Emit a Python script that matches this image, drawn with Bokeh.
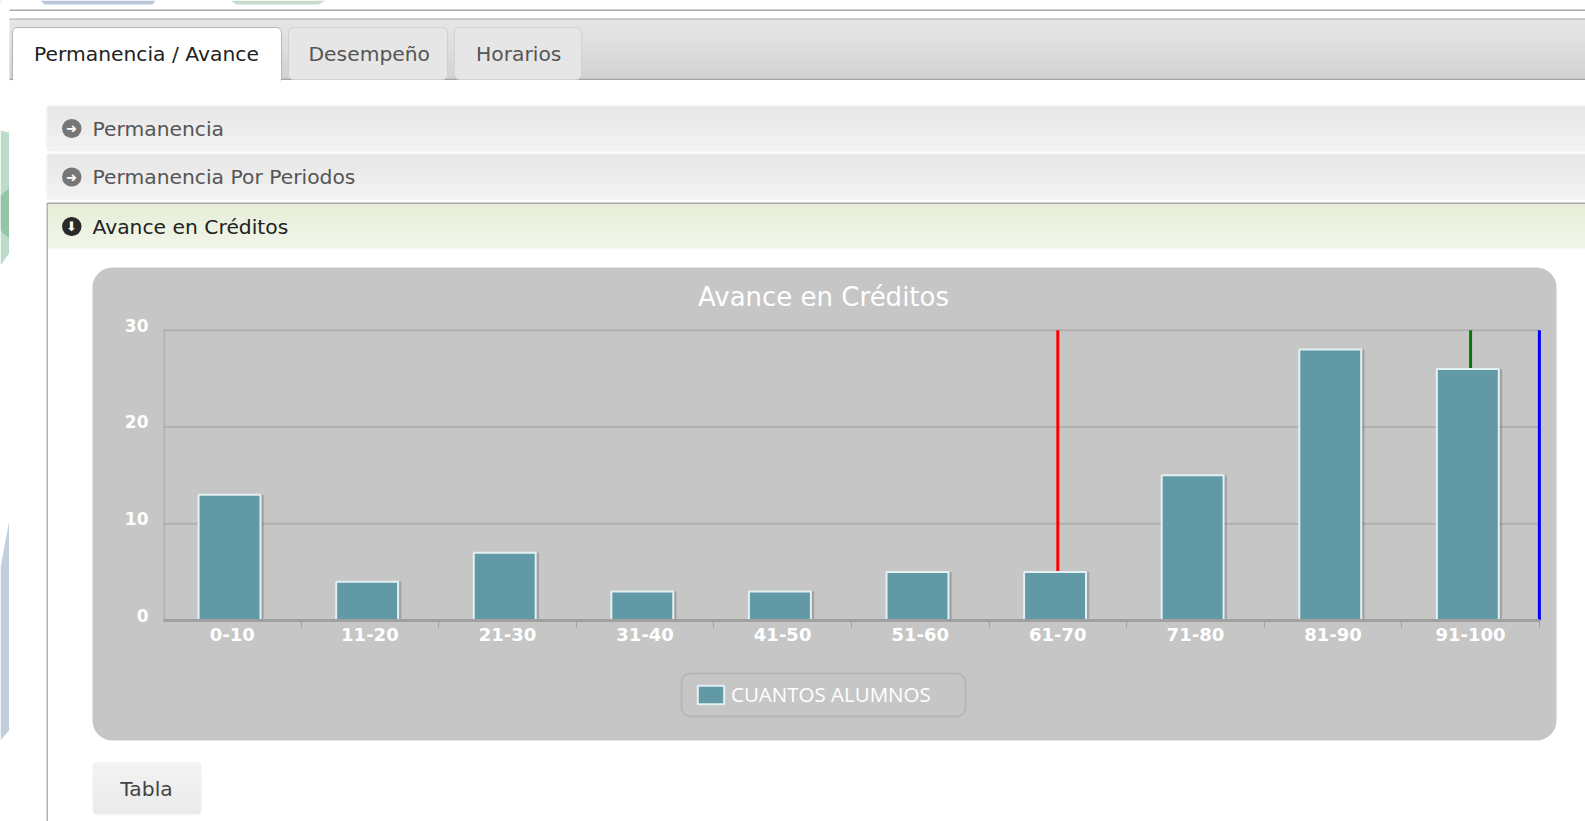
from bokeh.plotting import figure
from bokeh.models import (BoxAnnotation, Label, Range1d, FixedTicker, Legend, LegendItem, LinearAxis)
from bokeh.embed import file_html
from bokeh.resources import INLINE

# ---------- data ----------
categories = ["0-10", "11-20", "21-30", "31-40", "41-50", "51-60", "61-70", "71-80", "81-90", "91-100"]
alumnos = [13, 4, 7, 3, 3, 5, 5, 15, 28, 26]
y_ticks = [0, 10, 20, 30]
line_positions = [6.5, 9.5, 10.0]
line_colors = ["#ff0000", "#008000", "#0000ff"]
series_name = "CUANTOS ALUMNOS"
title_text = "Avance en Créditos"

FONT = "DejaVu Sans"
W, H = 1585, 821
BG = "#c6c6c6"
BAR = "#6199a6"
BAR_LINE = "#e4f0f2"
ABS = {"position": "absolute", "left": "0px", "top": "0px"}

xs = [i + 0.5 for i in range(len(categories))]
bar_xs = [x - 0.02 for x in xs]
shadow_xs = [x + 0.004 for x in xs]
boundaries = list(range(1, len(categories) + 1))

# page behind the chart: its ranges are the page's pixels
bg = figure(width=W, height=H, output_backend="svg", toolbar_location=None,
            x_range=Range1d(0, W), y_range=Range1d(H, 0), x_axis_type=None, y_axis_type=None,
            min_border=0, background_fill_color="#ffffff", border_fill_color="#ffffff",
            outline_line_color=None, styles=ABS)
bg.grid.visible = False


def box(l, t, r, b, fill, line=None, lw=1, radius=0):
    bg.add_layout(BoxAnnotation(left=l, right=r, top=t, bottom=b,
                                fill_color=fill, fill_alpha=1, line_color=line, line_alpha=1 if line else 0,
                                line_width=lw, border_radius=radius, level="glyph", editable=False))


def frame(l, t, r, b, line, lw=1, radius=0):
    bg.add_layout(BoxAnnotation(left=l, right=r, top=t, bottom=b, fill_alpha=0, line_color=line,
                                line_width=lw, border_radius=radius, level="glyph", editable=False))


def grad(l, t, r, b, c0, c1):
    n = int(b - t)
    a0 = [int(c0[i:i + 2], 16) for i in (1, 3, 5)]
    a1 = [int(c1[i:i + 2], 16) for i in (1, 3, 5)]
    for k in range(n):
        f = k / max(n - 1, 1)
        col = "#%02x%02x%02x" % tuple(round(u + (v - u) * f) for u, v in zip(a0, a1))
        box(l, t + k, r, t + k + 1, col)


def label(x, y, text, size, color, align="left", style="normal", font=FONT):
    bg.add_layout(Label(x=x, y=y, text=text, text_font=font, text_font_size=f"{size}px", text_color=color,
                        text_align=align, text_baseline="middle", text_font_style=style, level="overlay"))


# ---------- page chrome ----------
bg.patch([0, 8.5, 8.5, 0], [130, 132, 253, 265], fill_color="#bddbc9", line_color=None)
bg.patch([0, 8.5, 8.5, 0], [195, 188, 238, 230], fill_color="#94c5a8", line_color=None)
bg.patch([0, 8.5, 8.5, 0], [567, 522, 730, 740], fill_color="#c0cede", line_color=None)
bg.patch([40, 155, 152, 44], [0, 0, 4, 4], fill_color="#b9c7d9", line_color=None)
bg.patch([230, 325, 318, 236], [0, 0, 4, 4], fill_color="#c5dccb", line_color=None)
box(9, 9, W, 10.5, "#aaaaaa")
box(9, 18, W, 19.5, "#aaaaaa")
grad(9, 19, W, 78, "#dedede", "#c4c4c4")
box(9, 78, W, 79.5, "#a6a6a6")
box(12, 27, 281, 82, "#ffffff", "#b5b5b5", 1, 5)
box(13, 79, 280, 84, "#ffffff")
box(288, 27, 447, 79, "#e6e6e6", "#d2d2d2", 1, 5)
box(454, 27, 581, 79, "#e6e6e6", "#d2d2d2", 1, 5)
label(33.5, 53.5, "Permanencia / Avance", 20.3, "#222222")
label(308, 53.5, "Desempeño", 20.3, "#555555")
label(475.5, 53.5, "Horarios", 20.3, "#555555")

grad(47, 106, W, 150, "#dfdfdf", "#eeeeee")
frame(46, 105, W + 10, 150.5, "#cfcfcf", 1, 4)
grad(47, 154, W, 198, "#dfdfdf", "#eeeeee")
frame(46, 153, W + 10, 199, "#cfcfcf", 1, 4)
grad(47, 203, W, 248, "#dfe8ca", "#edf3e4")
box(46, 202, W, 203.5, "#a8a8a8", None, 1, 3)
box(46, 203, 47.5, H, "#b4b4b4")

for cy, col, arrow in [(128, "#777777", "➜"), (176.5, "#777777", "➜"), (226, "#2a2a2a", "⬇")]:
    box(61.5, cy - 9.5, 81, cy + 9.5, col, None, 1, 10)
    label(71, cy, arrow, 13, "#ffffff", align="center")
label(92, 128, "Permanencia", 20.3, "#555555")
label(92, 176.5, "Permanencia Por Periodos", 20.3, "#555555")
label(92, 226, "Avance en Créditos", 20.3, "#222222")

# chart panel
box(92, 267, 1556, 740, BG, None, 1, 20)
label(823, 296, title_text, 26, "#ffffff", align="center")

# button
grad(93, 763, 200, 813, "#efefef", "#e4e4e4")
frame(92.5, 762, 200.5, 814, "#d0d0d0", 1, 5)
label(146, 788, "Tabla", 20.3, "#444444", align="center")

# legend: kept in the full-page figure, whose frame does not clip it
frame(681, 673, 965, 716, "#969696", 2, 9)
key = bg.vbar(x=[-100], top=[1], width=1, fill_color=BAR, line_color=BAR_LINE, line_width=2)
legend = Legend(items=[LegendItem(label=series_name, renderers=[key])],
                location=(694, H - 708), orientation="horizontal",
                background_fill_alpha=0, border_line_color=None,
                glyph_width=33, glyph_height=23, padding=11, margin=0,
                label_text_color="#ffffff", label_text_font="Open Sans", label_text_font_size="20.5px",
                label_standoff=4)
bg.add_layout(legend, "center")

# ---------- chart ----------
p = figure(width=W, height=H, output_backend="svg", toolbar_location=None,
           x_range=Range1d(0, 10.03), y_range=Range1d(0, 31),
           x_axis_type=None, y_axis_type=None,
           min_border_left=163, min_border_right=42, min_border_top=320, min_border_bottom=201,
           background_fill_alpha=0, border_fill_alpha=0, outline_line_color=None, styles=ABS)
p.grid.visible = False
# the labels sit a little above their gridlines, as a shifted scale gives them
p.extra_y_ranges = {"labels": Range1d(-0.52, 30.48)}
xaxis = LinearAxis(ticker=FixedTicker(ticks=xs, minor_ticks=boundaries), bounds=(0, 10),
                   major_label_overrides=dict(zip(xs, categories)),
                   major_tick_line_color=None,
                   minor_tick_line_color="#a0a0a0", minor_tick_out=7, minor_tick_in=0, minor_tick_line_width=1,
                   axis_line_color="#a0a0a0", axis_line_width=3,
                   major_label_text_color="#ffffff", major_label_text_font=FONT,
                   major_label_text_font_style="bold", major_label_text_font_size="18px",
                   major_label_standoff=0)
yaxis = LinearAxis(y_range_name="labels", ticker=FixedTicker(ticks=y_ticks),
                   major_tick_line_color=None, minor_tick_line_color=None, axis_line_color=None,
                   major_label_text_color="#ffffff", major_label_text_font=FONT,
                   major_label_text_font_style="bold", major_label_text_font_size="17px",
                   major_label_standoff=9)
p.add_layout(xaxis, "below")
p.add_layout(yaxis, "left")
grid_y = y_ticks[1:]
p.segment(x0=[0] * len(grid_y), x1=[10] * len(grid_y), y0=grid_y, y1=grid_y, line_color="#b0b0b0", line_width=2)
p.segment(x0=[0], x1=[0], y0=[0], y1=[30], line_color="#b0b0b0", line_width=3)

p.segment(x0=line_positions, x1=line_positions, y0=[0] * 3, y1=[30] * 3, line_color=line_colors, line_width=3)
p.vbar(x=shadow_xs, top=alumnos, width=0.45, fill_color="#000000", fill_alpha=0.18, line_color=None)
p.vbar(x=bar_xs, top=alumnos, width=0.45, fill_color=BAR, line_color=BAR_LINE, line_width=2)

open("out.html", "w").write(file_html([bg, p], INLINE))
